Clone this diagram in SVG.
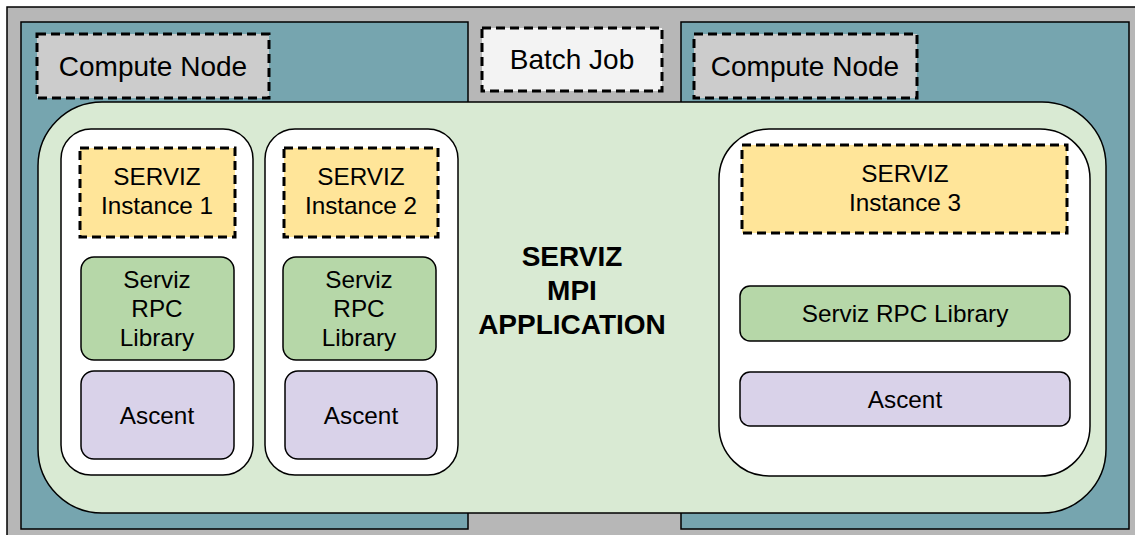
<svg xmlns="http://www.w3.org/2000/svg" width="1135" height="535" viewBox="0 0 1135 535">
<style>
text{font-family:"Liberation Sans",Arial,sans-serif;fill:#000;text-anchor:middle}
.lbl{font-size:28px}
.sm{font-size:24.3px}
.bold{font-size:28px;font-weight:bold}
.dash{stroke:#000;stroke-width:3;stroke-dasharray:9 5}
.solid{stroke:#000;stroke-width:1.5}
</style>
<g id="batch-bg"><rect x="7" y="7" width="1135" height="535" fill="#b7b7b7" class="solid"/></g>
<g id="node-left-bg"><rect x="21" y="22" width="447" height="507" fill="#76a5af" class="solid"/></g>
<g id="node-right-bg"><rect x="681" y="22" width="448" height="507" fill="#76a5af" class="solid"/></g>
<g id="compute-node-left"><rect x="37" y="34" width="232" height="64" fill="#cccccc" class="dash"/><text class="lbl" x="153" y="76">Compute Node</text></g>
<g id="batch-job"><rect x="482" y="28" width="180" height="63" fill="#f3f3f3" class="dash"/><text class="lbl" x="572" y="69">Batch Job</text></g>
<g id="compute-node-right"><rect x="694" y="34" width="223" height="64" fill="#cccccc" class="dash"/><text class="lbl" x="805" y="76">Compute Node</text></g>
<g id="mpi-app"><rect x="38" y="102" width="1068" height="411" rx="64" ry="64" fill="#d9ead3" class="solid"/>
<text class="bold" x="572" y="266">SERVIZ</text><text class="bold" x="572" y="300">MPI</text><text class="bold" x="572" y="334">APPLICATION</text></g>
<g id="column-1"><rect x="61" y="129" width="192" height="346" rx="30" ry="30" fill="#fff" class="solid"/></g>
<g id="column-2"><rect x="265" y="129" width="193" height="346" rx="30" ry="30" fill="#fff" class="solid"/></g>
<g id="column-3"><rect x="719" y="129" width="371" height="347" rx="50" ry="50" fill="#fff" class="solid"/></g>
<g id="instance-1"><rect x="80" y="148" width="155" height="89" fill="#ffe599" class="dash"/><text class="sm" x="157" y="185">SERVIZ</text><text class="sm" x="157" y="214">Instance 1</text></g>
<g id="instance-2"><rect x="284" y="148" width="154" height="89" fill="#ffe599" class="dash"/><text class="sm" x="361" y="185">SERVIZ</text><text class="sm" x="361" y="214">Instance 2</text></g>
<g id="instance-3"><rect x="742" y="145" width="325" height="88" fill="#ffe599" class="dash"/><text class="sm" x="905" y="182">SERVIZ</text><text class="sm" x="905" y="211">Instance 3</text></g>
<g id="rpc-1"><rect x="81" y="257" width="153" height="103" rx="13" ry="13" fill="#b6d7a8" class="solid"/><text class="sm" x="157" y="288">Serviz</text><text class="sm" x="157" y="317">RPC</text><text class="sm" x="157" y="346">Library</text></g>
<g id="rpc-2"><rect x="283" y="257" width="153" height="103" rx="13" ry="13" fill="#b6d7a8" class="solid"/><text class="sm" x="359" y="288">Serviz</text><text class="sm" x="359" y="317">RPC</text><text class="sm" x="359" y="346">Library</text></g>
<g id="rpc-3"><rect x="740" y="286" width="330" height="55" rx="10" ry="10" fill="#b6d7a8" class="solid"/><text class="sm" x="905" y="322">Serviz RPC Library</text></g>
<g id="ascent-1"><rect x="81" y="371" width="153" height="88" rx="13" ry="13" fill="#d9d2e9" class="solid"/><text class="sm" x="157" y="424">Ascent</text></g>
<g id="ascent-2"><rect x="285" y="371" width="152" height="88" rx="13" ry="13" fill="#d9d2e9" class="solid"/><text class="sm" x="361" y="424">Ascent</text></g>
<g id="ascent-3"><rect x="740" y="372" width="330" height="54" rx="10" ry="10" fill="#d9d2e9" class="solid"/><text class="sm" x="905" y="408">Ascent</text></g>
<g id="connectors"></g>
</svg>
